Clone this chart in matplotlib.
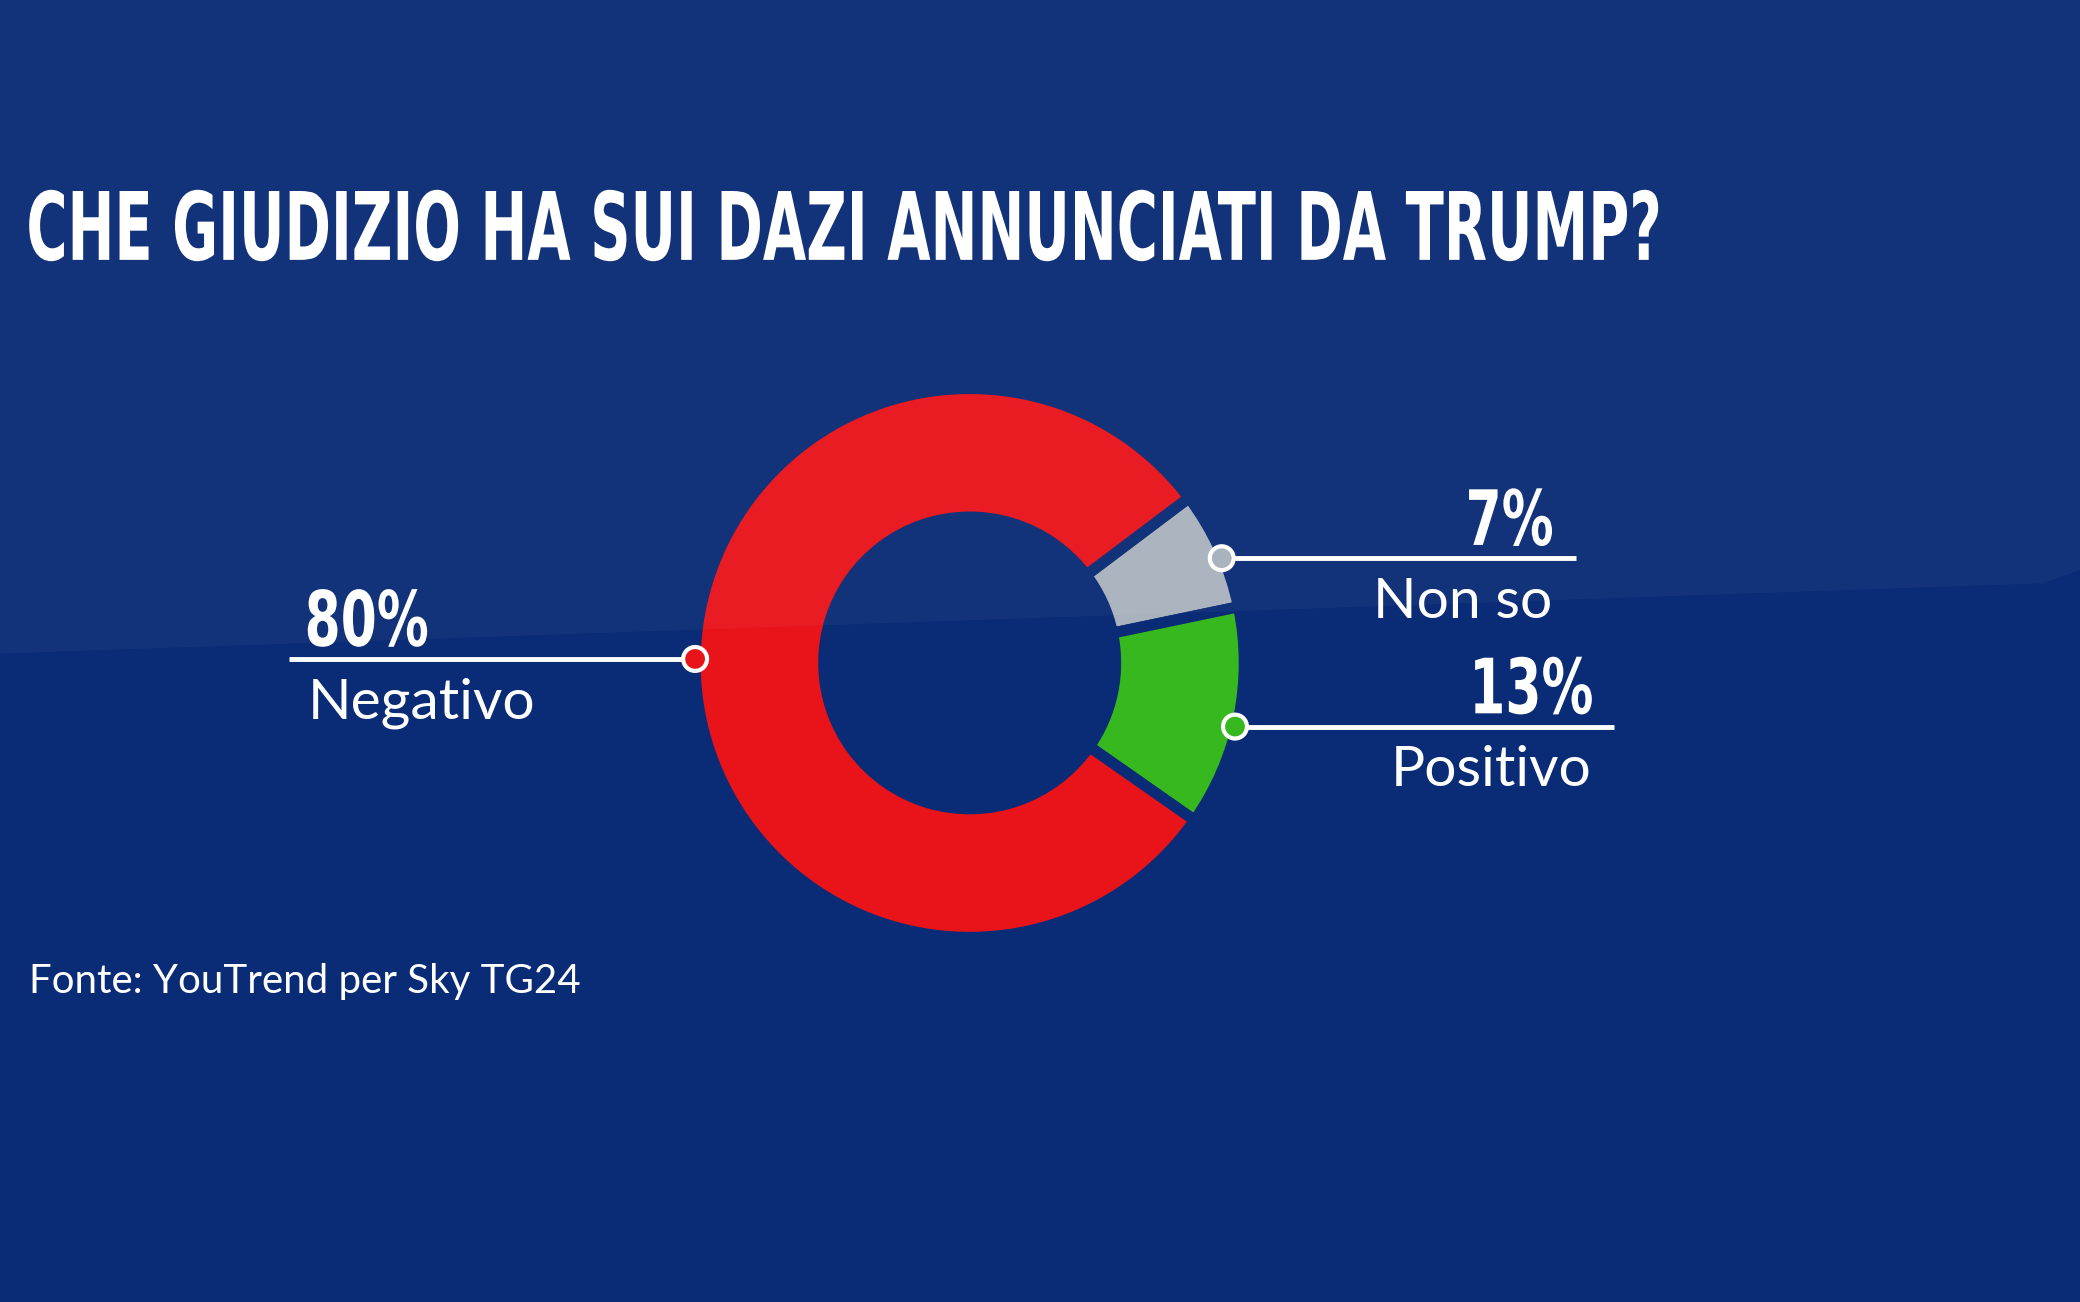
import matplotlib
matplotlib.use("Agg")
import matplotlib.pyplot as plt
from matplotlib.patches import Polygon, Circle, PathPatch
from matplotlib.textpath import TextPath
from matplotlib.font_manager import FontProperties
from matplotlib.transforms import Affine2D

labels = ["Non so", "Positivo", "Negativo"]
values = [7, 13, 80]
pct_labels = ["7%", "13%", "80%"]
colors = ["#a9b3bd", "#36b81e", "#e8141a"]
title = "CHE GIUDIZIO HA SUI DAZI ANNUNCIATI DA TRUMP?"
source = "Fonte: YouTrend per Sky TG24"

W, H = 1568, 982
BG = "#0a2b75"
fig = plt.figure(figsize=(20.8, 13.02), dpi=100, facecolor=BG)
ax = fig.add_axes([0, 0, 1, 1])
ax.set_facecolor(BG)
Y = lambda y: H - y
FP = FontProperties(family="DejaVu Sans", weight="bold")


def cond_text(s, x, y_base, cap, width=None, xscale=0.6, ha="left", z=8):
    tp = TextPath((0, 0), s, size=cap / 0.73, prop=FP)
    bb = tp.get_extents()
    sx = (width / bb.width) if width else xscale
    w = bb.width * sx
    x0 = x if ha == "left" else x - w
    tr = Affine2D().translate(-bb.x0, 0).scale(sx, 1).translate(x0, y_base)
    ax.add_patch(PathPatch(tr.transform_path(tp), facecolor="white", edgecolor="none", zorder=z))


cx, cy = 731, Y(500)
ax.pie(values, colors=colors, startangle=37, counterclock=False,
       radius=207, center=(cx, cy), frame=True,
       wedgeprops=dict(width=97, edgecolor=BG, linewidth=8))

ax.add_patch(Polygon([(0, H), (W, H), (W, Y(430)), (1540, Y(440)), (0, Y(493))],
                     closed=True, facecolor="white", alpha=0.035, edgecolor="none", zorder=5))

cond_text(title, 22, Y(196), 52, width=1228)

call = {
    "Non so": (921, 421, 921, 1188, 1170, "right"),
    "Positivo": (931, 548, 931, 1217, 1200, "right"),
    "Negativo": (524, 497, 218, 524, 232, "left"),
}
for lab, pct, col in zip(labels, pct_labels, colors):
    px, py, x0, x1, tx, ha = call[lab]
    ax.plot([x0, x1], [Y(py), Y(py)], color="white", lw=3.5, zorder=6, solid_capstyle="butt")
    ax.add_patch(Circle((px, Y(py)), 9, facecolor=col, edgecolor="white", lw=3, zorder=7))
    cond_text(pct, tx, Y(py) + 10, 42, xscale=0.68, ha=ha)
    ax.text(tx, Y(py) - 14, lab, fontsize=41, color="white", family="Lato",
            ha=ha, va="top", zorder=8)

ax.text(22, Y(740), source, fontsize=29, color="white", family="Lato", va="center", ha="left")

ax.set_xlim(0, W)
ax.set_ylim(0, H)
ax.set_aspect("auto")
ax.axis("off")
fig.savefig("out.png", dpi=100, facecolor=BG)
